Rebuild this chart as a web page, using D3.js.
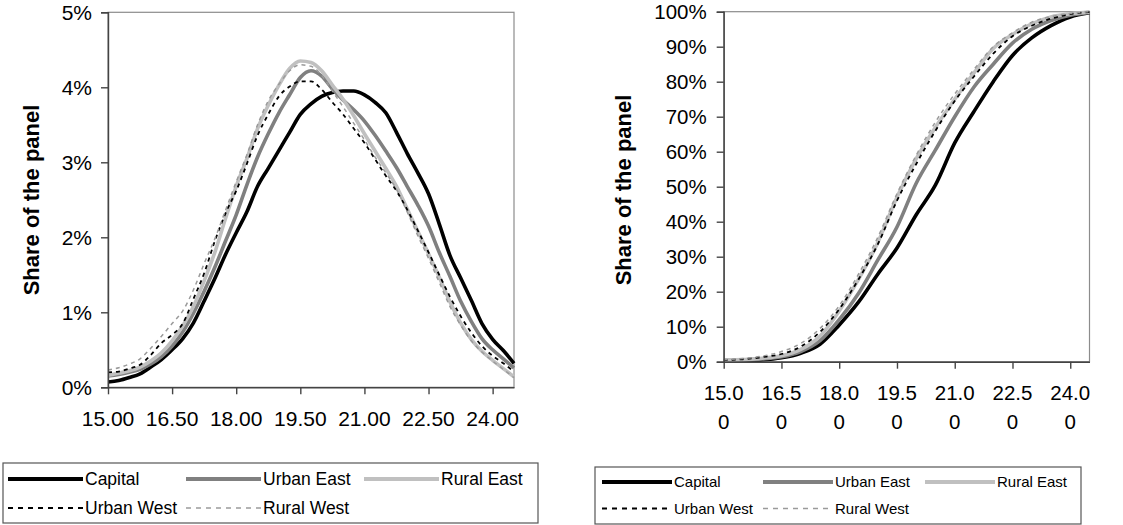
<!DOCTYPE html>
<html><head><meta charset="utf-8">
<script src="https://cdn.jsdelivr.net/npm/d3@7/dist/d3.min.js"></script>
<style>
body{margin:0;background:#fff}
svg{display:block}
text{font-family:"Liberation Sans",Arial,sans-serif;fill:#000}
</style>
</head><body>
<svg id="chart" width="1123" height="525"></svg>
<script>
// ---------- DATA ----------
const seriesNames = ["Capital", "Urban East", "Rural East", "Urban West", "Rural West"];

// Left panel: share of the panel (%) by value
const densityX = [15.0,15.25,15.5,15.75,16.0,16.25,16.5,16.75,17.0,17.25,17.5,17.75,18.0,18.25,18.5,18.75,19.0,19.25,19.5,19.75,20.0,20.25,20.5,20.75,21.0,21.25,21.5,21.75,22.0,22.25,22.5,22.75,23.0,23.25,23.5,23.75,24.0,24.25,24.5];
const capitalDensity   = [0.07,0.09,0.13,0.18,0.27,0.37,0.50,0.65,0.86,1.15,1.45,1.77,2.06,2.34,2.68,2.92,3.16,3.40,3.64,3.78,3.88,3.93,3.95,3.95,3.90,3.80,3.66,3.40,3.12,2.86,2.58,2.18,1.76,1.46,1.16,0.85,0.64,0.49,0.32];
const urbanEastDensity = [0.15,0.17,0.20,0.24,0.31,0.41,0.55,0.74,0.99,1.28,1.60,1.95,2.30,2.70,3.07,3.38,3.66,3.90,4.13,4.22,4.15,3.98,3.83,3.70,3.55,3.36,3.15,2.93,2.68,2.43,2.15,1.80,1.48,1.15,0.88,0.65,0.50,0.38,0.26];
const ruralEastDensity = [0.16,0.19,0.22,0.27,0.35,0.46,0.62,0.82,1.08,1.42,1.80,2.25,2.68,3.05,3.45,3.76,4.03,4.25,4.35,4.33,4.22,4.03,3.84,3.62,3.38,3.15,2.92,2.68,2.38,2.08,1.78,1.47,1.14,0.86,0.64,0.48,0.36,0.25,0.14];
const urbanWestDensity = [0.20,0.21,0.25,0.30,0.43,0.59,0.70,0.85,1.18,1.52,1.95,2.32,2.62,2.98,3.36,3.64,3.88,4.01,4.08,4.08,3.97,3.80,3.64,3.45,3.26,3.04,2.82,2.62,2.37,2.09,1.80,1.50,1.21,0.95,0.73,0.55,0.42,0.32,0.21];
const ruralWestDensity = [0.23,0.26,0.31,0.38,0.52,0.68,0.85,1.02,1.30,1.65,1.98,2.36,2.74,3.10,3.50,3.82,4.04,4.22,4.30,4.28,4.16,3.95,3.74,3.52,3.30,3.07,2.86,2.64,2.34,2.02,1.72,1.40,1.08,0.83,0.62,0.47,0.35,0.24,0.13];

// Right panel: cumulative share of the panel (%)
const cumulativeX = [15.0,15.5,16.0,16.5,17.0,17.5,18.0,18.5,19.0,19.5,20.0,20.5,21.0,21.5,22.0,22.5,23.0,23.5,24.0,24.5];
const capitalCum   = [0.3,0.3,0.5,1.1,2.4,5.0,10.5,17.0,25.0,32.5,42.0,50.5,62.5,71.5,80.0,87.5,92.5,96.0,98.5,99.7];
const urbanEastCum = [0.4,0.5,0.8,1.4,2.9,6.0,12.0,19.5,29.0,38.5,51.0,60.5,70.0,78.5,85.0,91.0,95.0,97.5,99.0,99.8];
const ruralEastCum = [0.5,0.6,1.0,1.7,3.5,7.3,14.5,23.5,34.0,47.0,58.0,67.0,75.0,82.5,89.5,93.5,96.5,98.5,99.4,99.9];
const urbanWestCum = [0.5,0.7,1.3,2.2,4.3,8.5,15.0,23.5,33.5,46.0,56.5,66.0,74.5,81.5,88.0,93.0,96.0,98.0,99.3,99.9];
const ruralWestCum = [0.6,0.9,1.6,2.9,5.2,9.5,16.0,25.0,35.5,48.0,59.0,68.5,76.5,83.5,90.0,94.0,97.0,98.6,99.5,100.0];

// Tick values and labels
const leftXTicks = [15.0,16.5,18.0,19.5,21.0,22.5,24.0];
const leftXTickLabels = ["15.00","16.50","18.00","19.50","21.00","22.50","24.00"];
const leftYTicks = [0,1,2,3,4,5];
const leftYTickLabels = ["0%","1%","2%","3%","4%","5%"];
const rightXTicks = [15.0,16.5,18.0,19.5,21.0,22.5,24.0];
const rightXTickLabels = [["15.0","0"],["16.5","0"],["18.0","0"],["19.5","0"],["21.0","0"],["22.5","0"],["24.0","0"]];
const rightYTicks = [0,10,20,30,40,50,60,70,80,90,100];
const rightYTickLabels = ["0%","10%","20%","30%","40%","50%","60%","70%","80%","90%","100%"];
const yAxisTitle = "Share of the panel";

// ---------- STYLE ----------
const lineStyle = {
  "Capital":    {color:"#000000", width:3.6, dash:null},
  "Urban East": {color:"#808080", width:3.6, dash:null},
  "Rural East": {color:"#c0c0c0", width:3.6, dash:null},
  "Urban West": {color:"#000000", width:1.8, dash:"4,4"},
  "Rural West": {color:"#9a9a9a", width:1.5, dash:"4,4"}
};

const svg = d3.select("#chart");

function panel(cfg){
  const g = svg.append("g");
  const x = d3.scaleLinear().domain([15, 24.5]).range([cfg.x0, cfg.x1]);
  const y = d3.scaleLinear().domain(cfg.yDomain).range([cfg.y1, cfg.y0]);

  // plot frame (top/right)
  g.append("rect").attr("x", cfg.x0).attr("y", cfg.y0)
    .attr("width", cfg.x1 - cfg.x0).attr("height", cfg.y1 - cfg.y0)
    .attr("fill","none").attr("stroke","#8c8c8c").attr("stroke-width",1.2);

  const clipId = "clip" + cfg.id;
  svg.append("clipPath").attr("id", clipId).append("rect")
    .attr("x", cfg.x0).attr("y", cfg.y0 - 3).attr("width", cfg.x1 - cfg.x0 + 2).attr("height", cfg.y1 - cfg.y0 + 3);

  const line = d3.line().x(d => x(d[0])).y(d => y(d[1])).curve(d3.curveMonotoneX);
  const lg = g.append("g").attr("clip-path", `url(#${clipId})`);
  cfg.series.forEach((vals, i) => {
    const st = lineStyle[seriesNames[i]];
    const pts = cfg.xs.map((xv, j) => [xv, vals[j]]);
    lg.append("path").datum(pts).attr("d", line)
      .attr("fill","none").attr("stroke", st.color).attr("stroke-width", st.width)
      .attr("stroke-dasharray", st.dash).attr("stroke-linejoin","round");
  });

  // y axis
  const ya = g.append("g").attr("transform", `translate(${cfg.x0},0)`)
    .call(d3.axisLeft(y).tickValues(cfg.yTicks).tickSize(7).tickPadding(cfg.yPad)
      .tickFormat((d,i) => cfg.yLabels[i]));
  ya.select(".domain").attr("stroke","#444").attr("stroke-width",1.4);
  ya.selectAll(".tick line").attr("stroke","#444").attr("stroke-width",1.4);
  ya.selectAll(".tick text").attr("font-size", cfg.tickFont).attr("fill","#000")
    .attr("font-family",'"Liberation Sans",Arial,sans-serif');

  // x axis
  const xa = g.append("g").attr("transform", `translate(0,${cfg.y1})`)
    .call(d3.axisBottom(x).tickValues(cfg.xTicks).tickSize(7).tickSizeOuter(0).tickFormat(""));
  xa.select(".domain").attr("stroke","#444").attr("stroke-width",1.4);
  xa.selectAll(".tick line").attr("stroke","#444").attr("stroke-width",1.4);
  xa.selectAll(".tick text").remove();
  cfg.xTicks.forEach((tv, i) => {
    const lab = cfg.xLabels[i];
    const lines = Array.isArray(lab) ? lab : [lab];
    lines.forEach((s, k) => {
      g.append("text").attr("x", x(tv)).attr("y", cfg.xLabelY + k * cfg.xLineGap)
        .attr("text-anchor","middle").attr("font-size", cfg.tickFont).text(s);
    });
  });

  // y title
  g.append("text").attr("transform", `translate(${cfg.titleX},${cfg.titleY}) rotate(-90)`)
    .attr("text-anchor","middle").attr("font-size", cfg.titleFont).attr("font-weight","bold")
    .text(yAxisTitle);
}

panel({
  id:"L", x0:108, x1:514, y0:12.3, y1:387.3, yDomain:[0,5],
  xs:densityX, series:[capitalDensity, urbanEastDensity, ruralEastDensity, urbanWestDensity, ruralWestDensity],
  xTicks:leftXTicks, xLabels:leftXTickLabels, yTicks:leftYTicks, yLabels:leftYTickLabels,
  tickFont:21, yPad:9, xLabelY:425.5, xLineGap:0, titleX:39, titleY:200, titleFont:22
});

panel({
  id:"R", x0:723.7, x1:1089.5, y0:11.7, y1:361.7, yDomain:[0,100],
  xs:cumulativeX, series:[capitalCum, urbanEastCum, ruralEastCum, urbanWestCum, ruralWestCum],
  xTicks:rightXTicks, xLabels:rightXTickLabels, yTicks:rightYTicks, yLabels:rightYTickLabels,
  tickFont:20.5, yPad:10, xLabelY:400, xLineGap:29, titleX:631, titleY:190, titleFont:22
});

// ---------- LEGENDS ----------
function legend(cfg){
  const g = svg.append("g");
  g.append("rect").attr("x", cfg.x).attr("y", cfg.y).attr("width", cfg.w).attr("height", cfg.h)
    .attr("fill","#fff").attr("stroke","#555").attr("stroke-width",1.2);
  seriesNames.forEach((name, i) => {
    const col = i % 3, row = Math.floor(i / 3);
    const lx = cfg.cols[col], ly = cfg.rows[row];
    const st = lineStyle[name];
    g.append("line").attr("x1", lx).attr("x2", lx + cfg.lineLen).attr("y1", ly).attr("y2", ly)
      .attr("stroke", st.color).attr("stroke-width", st.dash ? st.width : cfg.solidW)
      .attr("stroke-dasharray", st.dash ? "5,5" : null);
    g.append("text").attr("x", lx + cfg.lineLen + 2).attr("y", ly).attr("dy","0.36em")
      .attr("font-size", cfg.font).text(name);
  });
}

legend({x:3, y:463, w:535, h:60, cols:[8,186,364], rows:[479,508], lineLen:75, font:17.5, solidW:4});
legend({x:595, y:467, w:486, h:57, cols:[602,763,925], rows:[482,508.5], lineLen:70, font:15, solidW:4});
</script>
</body></html>
